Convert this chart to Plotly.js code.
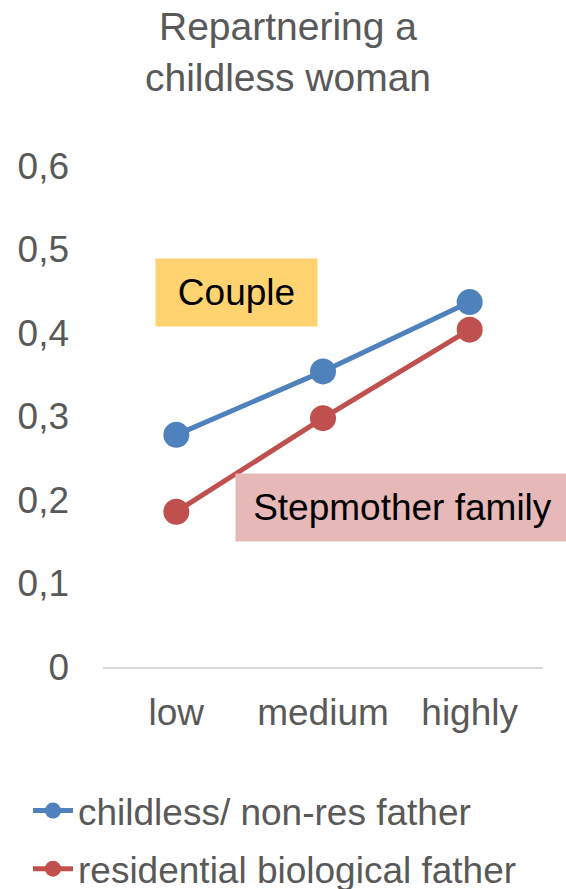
<!DOCTYPE html>
<html>
<head>
<meta charset="utf-8">
<script src="https://cdn.plot.ly/plotly-3.0.1.min.js"></script>
<style>html,body{margin:0;padding:0;background:#fff;}#chart{width:566px;height:889px;}</style>
</head>
<body>
<div id="chart"></div>
<script>
const categories = ["low", "medium", "highly"];
const childlessValues = [0.278, 0.354, 0.437];
const residentialValues = [0.186, 0.298, 0.404];
const seriesNames = ["childless/ non-res father", "residential biological father"];
const yTickVals = [0, 0.1, 0.2, 0.3, 0.4, 0.5, 0.6];
const yTickText = ["0", "0,1", "0,2", "0,3", "0,4", "0,5", "0,6"];

const grey = "#595959";
const font = "Liberation Sans, Arial, sans-serif";

const traces = [
  {x: categories, y: childlessValues, name: seriesNames[0], type: "scatter", mode: "lines+markers",
   line: {color: "#4F81BD", width: 5}, marker: {color: "#4F81BD", size: 26}, legendgroup: "a"},
  {x: categories, y: residentialValues, name: seriesNames[1], type: "scatter", mode: "lines+markers",
   line: {color: "#C0504D", width: 5}, marker: {color: "#C0504D", size: 26}, legendgroup: "b"}
];

const layout = {
  width: 566, height: 889,
  margin: {l: 103, r: 23, t: 166, b: 222, autoexpand: false},
  paper_bgcolor: "#fff", plot_bgcolor: "#fff",
  font: {family: font, color: grey, size: 37},
  title: {text: "Repartnering a<br>childless woman", x: 288 / 566, xref: "container", xanchor: "center",
          y: 1 - 40 / 889, yanchor: "top", font: {size: 39, color: grey, family: font}},
  xaxis: {type: "category", range: [-0.5, 2.5], showgrid: false, zeroline: false, automargin: false,
          showline: true, linecolor: "#D9D9D9", linewidth: 1.5, ticks: "", ticklabelstandoff: 12,
          tickangle: 0, tickfont: {size: 37, color: grey}, fixedrange: true},
  yaxis: {range: [0, 0.6], tickvals: yTickVals, ticktext: yTickText, showgrid: false, zeroline: false,
          automargin: false, showline: false, ticks: "", ticklabelstandoff: 33,
          tickfont: {size: 37, color: grey}, fixedrange: true},
  showlegend: true,
  legend: {xref: "container", yref: "container", x: 28 / 566, y: 1 - 780 / 889, xanchor: "left", yanchor: "top",
           font: {size: 37, color: grey}, traceorder: "grouped", tracegroupgap: 7, itemwidth: 40},
  annotations: [
    {text: "Couple", xref: "paper", yref: "paper", x: (155 - 103) / 440, y: (667 - 258) / 501,
     xanchor: "left", yanchor: "top", showarrow: false, bgcolor: "#FFD36F", font: {size: 37, color: "#000"},
     width: 159, height: 65, align: "center", valign: "middle"},
    {text: "Stepmother family", xref: "paper", yref: "paper", x: (235 - 103) / 440, y: (667 - 473) / 501,
     xanchor: "left", yanchor: "top", showarrow: false, bgcolor: "#E6B8B7", font: {size: 37, color: "#000"},
     width: 331, height: 65, align: "center", valign: "middle"}
  ]
};

Plotly.newPlot("chart", traces, layout, {displayModeBar: false, staticPlot: true});
</script>
</body>
</html>
